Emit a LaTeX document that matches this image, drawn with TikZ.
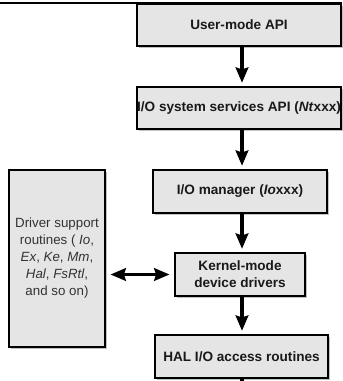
\documentclass[tikz,border=0pt]{standalone}
\usepackage{fontspec}
\setmainfont{Liberation Sans}
\usetikzlibrary{arrows.meta,shadows}
\begin{document}
\begin{tikzpicture}[x=0.75pt,y=-0.75pt,
  box/.style={draw=black, line width=1.3pt, fill=black!10, inner sep=0pt,
    align=center, text=black!90,
    font=\fontsize{10.2}{12.75}\selectfont\bfseries,
    drop shadow={shadow xshift=1.4pt, shadow yshift=-1.4pt, fill=black!30, opacity=0.8}},
  plainbox/.style={box, font=\fontsize{10}{12.75}\selectfont, text=black!80},
  arr/.style={line width=2.3pt, -{Stealth[length=11.5pt,width=9.5pt,inset=1.5pt]}, shorten >=2.5pt},
  darr/.style={line width=2.3pt, {Stealth[length=11.5pt,width=9.5pt,inset=1.5pt]}-{Stealth[length=11.5pt,width=9.5pt,inset=1.5pt]}, shorten >=3.5pt, shorten <=3.5pt}]
\useasboundingbox (0,0) rectangle (342,381);

\coordinate (tl) at (0,3);
\coordinate (tr) at (342,3);
\draw[line width=1.5pt] (tl) -- (tr);

\node[box, minimum width=153pt, minimum height=31.5pt] (user) at (239,25) {User-mode API};
\node[box, minimum width=153pt, minimum height=31.5pt] (iosys) at (239,108) {I/O system services API (\textit{Nt}xxx)};
\node[box, minimum width=130.5pt, minimum height=32.25pt] (iomgr) at (240,191.5) {I/O manager (\textit{Io}xxx)};
\node[box, minimum width=97.5pt, minimum height=32.25pt] (kern) at (240,274.5) {Kernel-mode\\device drivers};
\node[box, minimum width=129.75pt, minimum height=32.25pt] (hal) at (241.5,356.5) {HAL I/O access routines};
\node[plainbox, minimum width=72pt, minimum height=132.75pt] (drv) at (57,258.5)
  {Driver support\\routines ( \textit{Io},\\\textit{Ex}, \textit{Ke}, \textit{Mm},\\\textit{Hal}, \textit{FsRtl},\\and so on)};

\coordinate (ax) at (242,0);
\coordinate (stub) at (242,381);
\draw[arr] (user.south -| ax) -- (iosys.north -| ax);
\draw[arr] (iosys.south -| ax) -- (iomgr.north -| ax);
\draw[arr] (iomgr.south -| ax) -- (kern.north -| ax);
\draw[arr] (kern.south -| ax) -- (hal.north -| ax);
\draw[darr] (drv.east |- kern.west) -- (kern.west);
\draw[line width=2.3pt] (hal.south -| ax) -- (stub);
\end{tikzpicture}
\end{document}
